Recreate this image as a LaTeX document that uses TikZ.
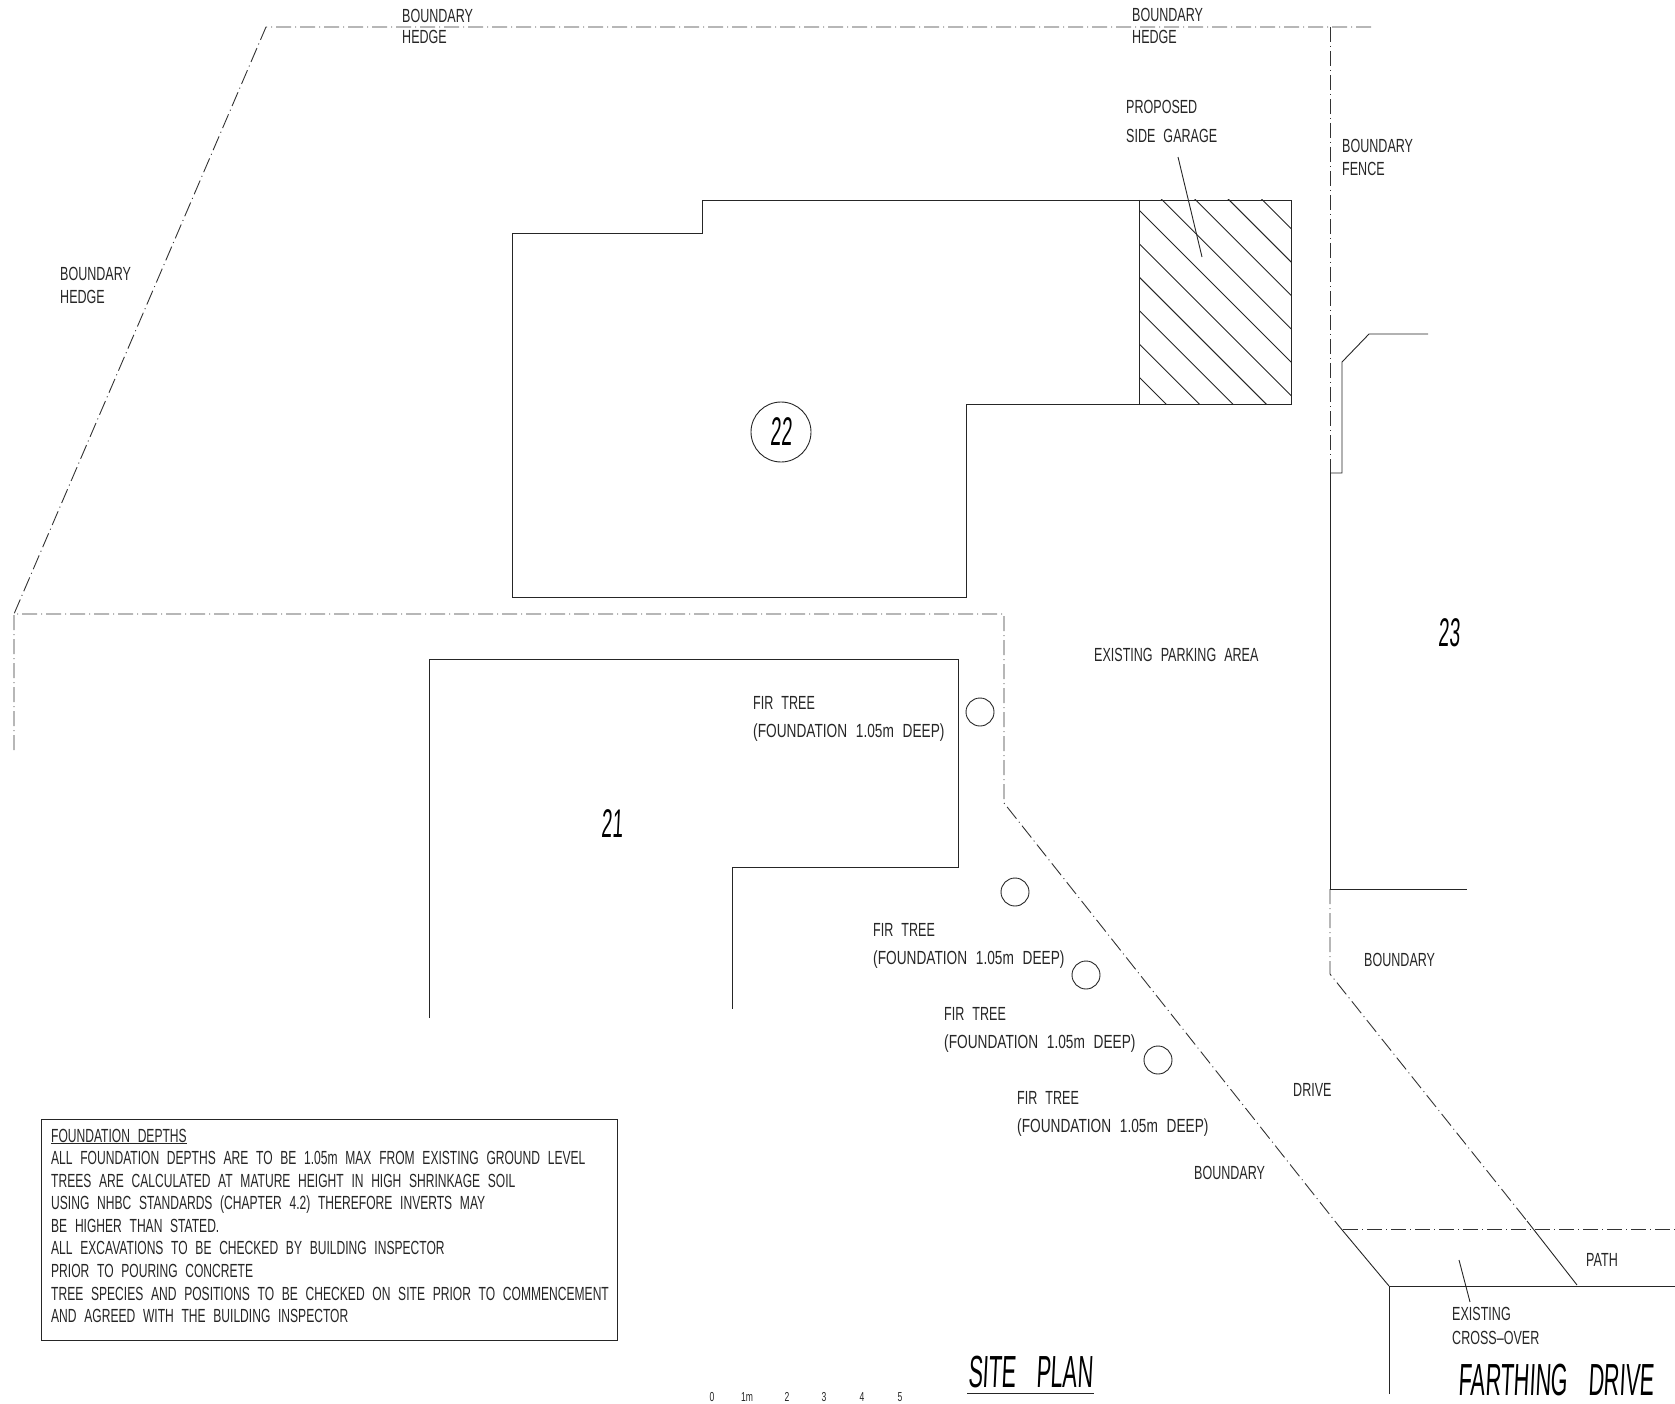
\documentclass[tikz,border=0pt]{standalone}
\usepackage{fontspec}
\setmainfont[FakeStretch=0.66,WordSpace=2.3]{Liberation Sans}
\newfontfamily\boxfont[FakeStretch=0.635,WordSpace=2.3]{Liberation Sans}
\newfontfamily\firfont[FakeStretch=0.72,WordSpace=2.3]{Liberation Sans}
\newfontfamily\titlefont[FakeStretch=0.48,FakeSlant=0.05,WordSpace=3.4]{Liberation Sans}
\begin{document}
\begin{tikzpicture}[x=1pt,y=-1pt]
  \tikzset{
    boundary/.style={draw=black!80, line width=0.9pt, dash pattern=on 15pt off 4pt on 1pt off 4pt},
    wall/.style={draw=black!85, line width=0.9pt},
    note/.style={anchor=west, inner sep=0pt, font=\fontsize{19}{19}\selectfont, text=black!85},
    firnote/.style={note, font=\firfont\fontsize{19}{19}\selectfont},
    boxnote/.style={note, font=\boxfont\fontsize{19}{19}\selectfont},
    tree/.style={draw=black!85, line width=0.9pt, circle, minimum size=28pt, inner sep=0pt},
    plotno/.style={inner sep=0pt, font=\titlefont\fontsize{40}{40}\selectfont},
    heading/.style={inner sep=0pt, font=\titlefont\fontsize{45}{45}\selectfont},
    scaleno/.style={inner sep=0pt, font=\fontsize{13}{13}\selectfont, text=black!85}
  }
  \useasboundingbox (0,0) rectangle (1675,1404);

  % boundaries
  \draw[boundary] (1371,27) -- (266,27) -- (14,614);
  \draw[boundary] (14,750) -- (14,614) -- (1004,614) -- (1004,803) -- (1338,1225);
  \draw[boundary] (1330,27) -- (1330,473);
  \draw[boundary] (1330,889) -- (1330,974) -- (1527,1221);
  \draw[boundary] (1343,1229) -- (1675,1229);

  % house 22 and garage
  \draw[wall] (512,233) -- (702.5,233) -- (702.5,200) -- (1291.5,200) -- (1291.5,404.5)
    -- (966.5,404.5) -- (966.5,597) -- (512,597) -- cycle;
  \draw[wall] (1139,200) -- (1139,404.5);
  \begin{scope}
    \clip (1139,200) rectangle (1291.5,404.5);
    \foreach \offs in {0,...,9} {
      \draw[wall] (1139,{76.5+\offs*33.4}) -- ++(400,400);
    }
  \end{scope}
  \coordinate (garagetail) at (1178,157);
  \coordinate (garagetip) at (1202,257);
  \draw[wall] (garagetail) -- (garagetip);
  \node[tree, minimum size=60pt, font=\titlefont\fontsize{40}{40}\selectfont] (plot22) at (781,432) {22};

  % house 23
  \draw[wall] (1330,473) -- (1342,473) -- (1342,362) -- (1369,334) -- (1428,334);
  \draw[wall] (1330,473) -- (1330,889);
  \draw[wall] (1330,889) -- (1467,889);
  \node[plotno] (plot23) at (1449,633) {23};

  % house 21
  \draw[wall] (429,1018) -- (429,659) -- (958,659) -- (958,867) -- (732,867) -- (732,1009);
  \node[plotno] (plot21) at (612,824) {21};

  % trees
  \node[tree] (tree1) at (980,712) {};
  \node[tree] (tree2) at (1015,892) {};
  \node[tree] (tree3) at (1086,975) {};
  \node[tree] (tree4) at (1158,1060) {};

  % drive
  \draw[wall] (1338,1225) -- (1389,1286);
  \draw[wall] (1527,1221) -- (1577,1285);
  \draw[wall] (1389,1394) -- (1389,1286) -- (1675,1286);
  \coordinate (crosstail) at (1459,1260);
  \coordinate (crosstip) at (1470,1302);
  \draw[wall] (crosstail) -- (crosstip);

  % notes on the plan
  \node[note] (hedge1a) at (402,16) {BOUNDARY};
  \node[note] (hedge1b) at (402,37) {HEDGE};
  \node[note] (hedge2a) at (1132,15) {BOUNDARY};
  \node[note] (hedge2b) at (1132,37) {HEDGE};
  \node[note] (hedge3a) at (60,274) {BOUNDARY};
  \node[note] (hedge3b) at (60,297) {HEDGE};
  \node[note] (proposed) at (1126,107) {PROPOSED};
  \node[note] (sidegarage) at (1126,136) {SIDE GARAGE};
  \node[note] (fencea) at (1342,146) {BOUNDARY};
  \node[note] (fenceb) at (1342,169) {FENCE};
  \node[note] (parking) at (1094,655) {EXISTING PARKING AREA};
  \node[note] (fir1a) at (753,703) {FIR TREE};
  \node[firnote] (fir1b) at (753,733) {(FOUNDATION 1.05m DEEP)};
  \node[note] (fir2a) at (873,930) {FIR TREE};
  \node[firnote] (fir2b) at (873,960) {(FOUNDATION 1.05m DEEP)};
  \node[note] (fir3a) at (944,1014) {FIR TREE};
  \node[firnote] (fir3b) at (944,1044) {(FOUNDATION 1.05m DEEP)};
  \node[note] (fir4a) at (1017,1098) {FIR TREE};
  \node[firnote] (fir4b) at (1017,1128) {(FOUNDATION 1.05m DEEP)};
  \node[note] (bound1) at (1364,960) {BOUNDARY};
  \node[note] (drive) at (1293,1090) {DRIVE};
  \node[note] (bound2) at (1194,1173) {BOUNDARY};
  \node[note] (path) at (1586,1260) {PATH};
  \node[note] (crossa) at (1452,1314) {EXISTING};
  \node[note] (crossb) at (1452,1338) {CROSS--OVER};

  % depth notes
  \node[wall, minimum width=576pt, minimum height=221pt, anchor=north west] (depths) at (41,1118.5) {};
  \node[boxnote] (depths0) at (51,1136.5) {\underline{FOUNDATION DEPTHS}};
  \node[boxnote] (depths1) at (51,1158) {ALL FOUNDATION DEPTHS ARE TO BE 1.05m MAX FROM EXISTING GROUND LEVEL};
  \node[boxnote] (depths2) at (51,1180.5) {TREES ARE CALCULATED AT MATURE HEIGHT IN HIGH SHRINKAGE SOIL};
  \node[boxnote] (depths3) at (51,1205) {USING NHBC STANDARDS (CHAPTER 4.2) THEREFORE INVERTS MAY};
  \node[boxnote] (depths4) at (51,1225.5) {BE HIGHER THAN STATED.};
  \node[boxnote] (depths5) at (51,1248) {ALL EXCAVATIONS TO BE CHECKED BY BUILDING INSPECTOR};
  \node[boxnote] (depths6) at (51,1271) {PRIOR TO POURING CONCRETE};
  \node[boxnote] (depths7) at (51,1293.5) {TREE SPECIES AND POSITIONS TO BE CHECKED ON SITE PRIOR TO COMMENCEMENT};
  \node[boxnote] (depths8) at (51,1316) {AND AGREED WITH THE BUILDING INSPECTOR};

  % titles and scale
  \node[heading] (siteplan) at (1030.5,1372) {SITE PLAN};
  \draw[wall] (967,1393) -- (1094,1393);
  \node[heading] (farthing) at (1556.5,1380) {FARTHING DRIVE};
  \node[scaleno] (scale0) at (712,1397) {0};
  \node[scaleno] (scale1) at (747,1397) {1m};
  \node[scaleno] (scale2) at (787,1397) {2};
  \node[scaleno] (scale3) at (824,1397) {3};
  \node[scaleno] (scale4) at (862,1397) {4};
  \node[scaleno] (scale5) at (900,1397) {5};
\end{tikzpicture}
\end{document}
